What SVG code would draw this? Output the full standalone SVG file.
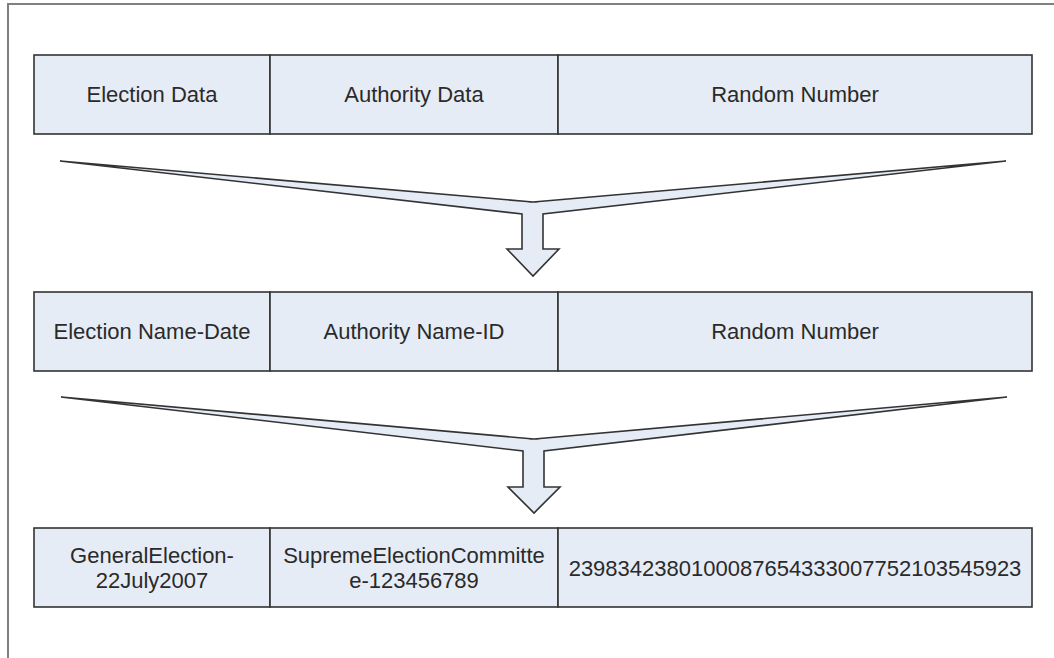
<svg xmlns="http://www.w3.org/2000/svg" width="1054" height="658" viewBox="0 0 1054 658">
<style>
.cell{fill:#E6ECF6;stroke:#333;stroke-width:1.6}
.t{font-family:"Liberation Sans",Arial,sans-serif;font-size:22px;fill:#2a2a2a;text-anchor:middle}
.arrow{fill:#E6ECF6;stroke:#333;stroke-width:1.6;stroke-linejoin:miter}
</style>
<rect x="0" y="0" width="1054" height="658" fill="#fff"/>
<path d="M8,658 V4 H1054" fill="none" stroke="#808080" stroke-width="2"/>
<g id="row1">
<rect class="cell" x="34" y="55" width="236" height="79"/>
<rect class="cell" x="270" y="55" width="288" height="79"/>
<rect class="cell" x="558" y="55" width="474" height="79"/>
<text class="t" x="152" y="102">Election Data</text>
<text class="t" x="414" y="102">Authority Data</text>
<text class="t" x="795" y="102">Random Number</text>
</g>
<g id="row2">
<rect class="cell" x="34" y="292" width="236" height="79"/>
<rect class="cell" x="270" y="292" width="288" height="79"/>
<rect class="cell" x="558" y="292" width="474" height="79"/>
<text class="t" x="152" y="339">Election Name-Date</text>
<text class="t" x="414" y="339">Authority Name-ID</text>
<text class="t" x="795" y="339">Random Number</text>
</g>
<g id="row3">
<rect class="cell" x="34" y="528" width="236" height="79"/>
<rect class="cell" x="270" y="528" width="288" height="79"/>
<rect class="cell" x="558" y="528" width="474" height="79"/>
<text class="t" x="152" y="563">GeneralElection-</text>
<text class="t" x="152" y="588">22July2007</text>
<text class="t" x="414" y="563">SupremeElectionCommitte</text>
<text class="t" x="414" y="588">e-123456789</text>
<text class="t" x="795" y="576">2398342380100087654333007752103545923</text>
</g>
<g id="connectors">
<path class="arrow" d="M60,161 L527,201.5 Q533,202.5 539,201.5 L1006,161 L543,214 V249 H559 L533,276 L507,249 H522 V214 Z"/>
<path class="arrow" d="M61,397 L528,438.5 Q534,439.5 540,438.5 L1007,397 L544,451 V487 H560 L534,513 L508,487 H523 V451 Z"/>
</g>
</svg>
